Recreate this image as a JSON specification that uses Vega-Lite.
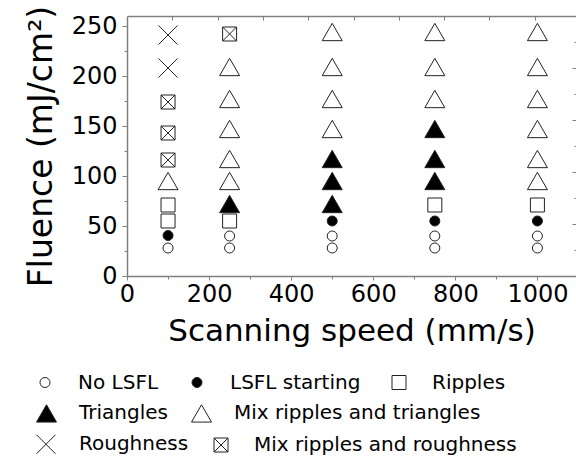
{
  "$schema": "https://vega.github.io/schema/vega-lite/v6.json",
  "width": 449,
  "height": 260,
  "autosize": {"type": "none"},
  "padding": {"left": 127, "top": 16, "right": 0, "bottom": 182},
  "data": {"values": [
    {"speed": 100, "fluence": 28, "morph": "No LSFL"},
    {"speed": 100, "fluence": 40.5, "morph": "LSFL starting"},
    {"speed": 100, "fluence": 55, "morph": "Ripples"},
    {"speed": 100, "fluence": 71, "morph": "Ripples"},
    {"speed": 100, "fluence": 95, "morph": "Mix ripples and triangles"},
    {"speed": 100, "fluence": 116, "morph": "Mix ripples and roughness"},
    {"speed": 100, "fluence": 143, "morph": "Mix ripples and roughness"},
    {"speed": 100, "fluence": 174, "morph": "Mix ripples and roughness"},
    {"speed": 100, "fluence": 208, "morph": "Roughness"},
    {"speed": 100, "fluence": 241, "morph": "Roughness"},
    {"speed": 250, "fluence": 28, "morph": "No LSFL"},
    {"speed": 250, "fluence": 40, "morph": "No LSFL"},
    {"speed": 250, "fluence": 55, "morph": "Ripples"},
    {"speed": 250, "fluence": 72, "morph": "Triangles"},
    {"speed": 250, "fluence": 95, "morph": "Mix ripples and triangles"},
    {"speed": 250, "fluence": 117, "morph": "Mix ripples and triangles"},
    {"speed": 250, "fluence": 147, "morph": "Mix ripples and triangles"},
    {"speed": 250, "fluence": 177, "morph": "Mix ripples and triangles"},
    {"speed": 250, "fluence": 209, "morph": "Mix ripples and triangles"},
    {"speed": 250, "fluence": 242, "morph": "Mix ripples and roughness"},
    {"speed": 500, "fluence": 28, "morph": "No LSFL"},
    {"speed": 500, "fluence": 40, "morph": "No LSFL"},
    {"speed": 500, "fluence": 55, "morph": "LSFL starting"},
    {"speed": 500, "fluence": 72, "morph": "Triangles"},
    {"speed": 500, "fluence": 95, "morph": "Triangles"},
    {"speed": 500, "fluence": 117, "morph": "Triangles"},
    {"speed": 500, "fluence": 147, "morph": "Mix ripples and triangles"},
    {"speed": 500, "fluence": 177, "morph": "Mix ripples and triangles"},
    {"speed": 500, "fluence": 209, "morph": "Mix ripples and triangles"},
    {"speed": 500, "fluence": 244, "morph": "Mix ripples and triangles"},
    {"speed": 750, "fluence": 28, "morph": "No LSFL"},
    {"speed": 750, "fluence": 40, "morph": "No LSFL"},
    {"speed": 750, "fluence": 55, "morph": "LSFL starting"},
    {"speed": 750, "fluence": 71, "morph": "Ripples"},
    {"speed": 750, "fluence": 95, "morph": "Triangles"},
    {"speed": 750, "fluence": 117, "morph": "Triangles"},
    {"speed": 750, "fluence": 147, "morph": "Triangles"},
    {"speed": 750, "fluence": 177, "morph": "Mix ripples and triangles"},
    {"speed": 750, "fluence": 209, "morph": "Mix ripples and triangles"},
    {"speed": 750, "fluence": 244, "morph": "Mix ripples and triangles"},
    {"speed": 1000, "fluence": 28, "morph": "No LSFL"},
    {"speed": 1000, "fluence": 40, "morph": "No LSFL"},
    {"speed": 1000, "fluence": 55, "morph": "LSFL starting"},
    {"speed": 1000, "fluence": 71, "morph": "Ripples"},
    {"speed": 1000, "fluence": 95, "morph": "Mix ripples and triangles"},
    {"speed": 1000, "fluence": 117, "morph": "Mix ripples and triangles"},
    {"speed": 1000, "fluence": 147, "morph": "Mix ripples and triangles"},
    {"speed": 1000, "fluence": 177, "morph": "Mix ripples and triangles"},
    {"speed": 1000, "fluence": 209, "morph": "Mix ripples and triangles"},
    {"speed": 1000, "fluence": 244, "morph": "Mix ripples and triangles"}
  ]},
  "layer": [
    {
      "transform": [{"filter": {"field": "morph", "oneOf": ["No LSFL", "LSFL starting", "Ripples"]}}],
      "mark": {"type": "point", "filled": true, "stroke": "#222", "strokeWidth": 1, "opacity": 1},
      "encoding": {
        "x": {"field": "speed", "type": "quantitative", "scale": {"domain": [0, 1094], "nice": false},
          "axis": {"orient": "bottom", "title": "Scanning speed (mm/s)", "values": [0,100,200,300,400,500,600,700,800,900,1000], "format": "d",
            "labelExpr": "datum.value % 200 == 0 ? datum.label : ''", "tickSize": {"condition": {"test": "datum.value % 200 == 0", "value": 4}, "value": 3},
            "labelPadding": 2, "titlePadding": 10, "labelFlush": false, "labelOverlap": false}},
        "y": {"field": "fluence", "type": "quantitative", "scale": {"domain": [0, 260], "nice": false},
          "axis": {"orient": "left", "title": "Fluence (mJ/cm²)", "values": [0,25,50,75,100,125,150,175,200,225,250],
            "labelExpr": "datum.value % 50 == 0 ? datum.label : ''", "tickSize": {"condition": {"test": "datum.value % 50 == 0", "value": 5}, "value": 3},
            "labelPadding": 5, "titlePadding": 13, "titleFontSize": 33, "labelFlush": false, "labelOverlap": false}},
        "shape": {"field": "morph", "type": "nominal", "scale": {"domain": ["No LSFL", "LSFL starting", "Ripples"], "range": ["circle", "circle", "M-1,-1L1,-1L1,1L-1,1Z"]},
          "legend": {"orient": "none", "legendX": -92, "legendY": 356.5, "direction": "horizontal", "title": null, "labelOffset": 23, "columnPadding": 28}},
        "fill": {"field": "morph", "type": "nominal", "scale": {"domain": ["No LSFL", "LSFL starting", "Ripples"], "range": ["white", "black", "white"]},
          "legend": {"orient": "none", "legendX": -92, "legendY": 356.5, "direction": "horizontal", "title": null, "labelOffset": 23, "columnPadding": 28}},
        "size": {"field": "morph", "type": "nominal", "scale": {"type": "ordinal", "domain": ["No LSFL", "LSFL starting", "Ripples"], "range": [100, 100, 196]},
          "legend": {"orient": "none", "legendX": -92, "legendY": 356.5, "direction": "horizontal", "title": null, "labelOffset": 23, "columnPadding": 28}}
      }
    },
    {
      "transform": [{"filter": {"field": "morph", "oneOf": ["Triangles", "Mix ripples and triangles"]}}],
      "mark": {"type": "point", "filled": true, "stroke": "#222", "strokeWidth": 1, "opacity": 1},
      "encoding": {
        "x": {"field": "speed", "type": "quantitative",
          "axis": {"orient": "top", "title": null, "labels": false, "values": [110,221,331,442,552,662,773,883,994], "tickSize": -4, "domain": true}},
        "y": {"field": "fluence", "type": "quantitative",
          "axis": {"orient": "right", "title": null, "labels": false, "domain": false, "values": [26,52,78,104,130,156,182,208,234],
            "tickSize": {"condition": {"test": "datum.value % 52 == 0", "value": -4}, "value": -2}}},
        "shape": {"field": "morph", "type": "nominal", "scale": {"domain": ["Triangles", "Mix ripples and triangles"], "range": ["triangle-up", "triangle-up"]},
          "legend": {"orient": "none", "legendX": -91, "legendY": 386.5, "direction": "horizontal", "title": null, "labelOffset": 22, "columnPadding": 21}},
        "fill": {"field": "morph", "type": "nominal", "scale": {"domain": ["Triangles", "Mix ripples and triangles"], "range": ["black", "white"]},
          "legend": {"orient": "none", "legendX": -91, "legendY": 386.5, "direction": "horizontal", "title": null, "labelOffset": 22, "columnPadding": 21}},
        "size": {"field": "morph", "type": "nominal", "scale": {"type": "ordinal", "domain": ["Triangles", "Mix ripples and triangles"], "range": [400, 400]},
          "legend": {"orient": "none", "legendX": -91, "legendY": 386.5, "direction": "horizontal", "title": null, "labelOffset": 22, "columnPadding": 21}}
      }
    },
    {
      "transform": [{"filter": {"field": "morph", "oneOf": ["Roughness", "Mix ripples and roughness"]}}],
      "mark": {"type": "point", "filled": true, "stroke": "#222", "strokeWidth": 1, "opacity": 1},
      "encoding": {
        "x": {"field": "speed", "type": "quantitative", "axis": null},
        "y": {"field": "fluence", "type": "quantitative", "axis": null},
        "shape": {"field": "morph", "type": "nominal", "scale": {"domain": ["Roughness", "Mix ripples and roughness"], "range": ["M-1,-1L1,1M-1,1L1,-1", "M-1,-1L1,-1L1,1L-1,1ZM-1,-1L1,1M-1,1L1,-1"]},
          "legend": {"orient": "none", "legendX": -91, "legendY": 418, "direction": "horizontal", "title": null, "labelOffset": 23, "columnPadding": 22}},
        "fill": {"field": "morph", "type": "nominal", "scale": {"domain": ["Roughness", "Mix ripples and roughness"], "range": ["white", "white"]},
          "legend": {"orient": "none", "legendX": -91, "legendY": 418, "direction": "horizontal", "title": null, "labelOffset": 23, "columnPadding": 22}},
        "size": {"field": "morph", "type": "nominal", "scale": {"type": "ordinal", "domain": ["Roughness", "Mix ripples and roughness"], "range": [361, 196]},
          "legend": {"orient": "none", "legendX": -91, "legendY": 418, "direction": "horizontal", "title": null, "labelOffset": 23, "columnPadding": 22}}
      }
    }
  ],
  "resolve": {
    "scale": {"shape": "independent", "fill": "independent", "size": "independent"},
    "axis": {"x": "independent", "y": "independent"}
  },
  "config": {
    "font": "DejaVu Sans",
    "view": {"stroke": null},
    "axis": {"grid": false, "domainColor": "#808080", "domainWidth": 1.5, "tickColor": "#808080", "tickWidth": 1,
      "labelFont": "DejaVu Sans", "labelFontSize": 24, "labelColor": "#000",
      "titleFont": "DejaVu Sans", "titleFontSize": 31, "titleFontWeight": "normal", "titleColor": "#000"},
    "legend": {"labelFont": "DejaVu Sans", "labelFontSize": 20, "labelColor": "#000", "padding": 0, "symbolStrokeWidth": 1, "labelLimit": 400}
  }
}
